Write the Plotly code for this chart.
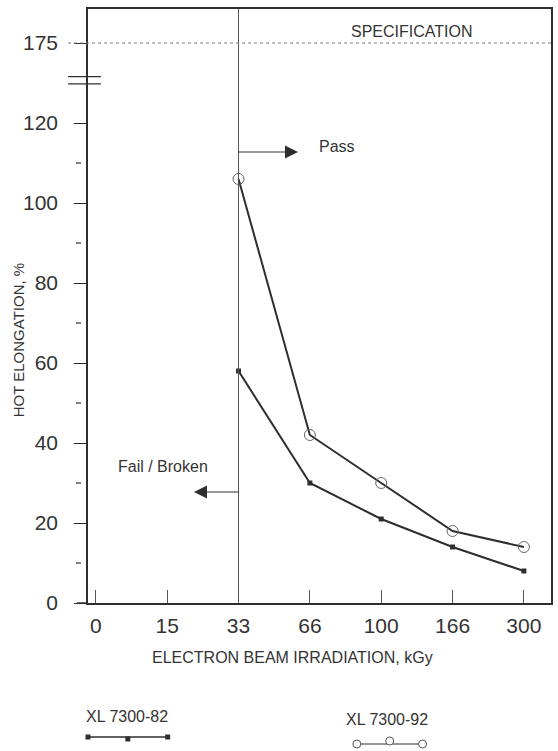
import plotly.graph_objects as go

# ---- data ----
dose_labels = ["0", "15", "33", "66", "100", "166", "300"]
dose_measured = ["33", "66", "100", "166", "300"]
xl_7300_82 = [58, 30, 21, 14, 8]
xl_7300_92 = [106, 42, 30, 18, 14]
ytick_vals = [0, 20, 40, 60, 80, 100, 120, 140]
ytick_text = ["0", "20", "40", "60", "80", "100", "120", "175"]
y_minor = [10, 30, 50, 70, 90, 110]
spec_pos = 140          # axis position where the broken axis shows 175
pass_level = 112.75
fail_level = 27.75

W, H = 558, 751
L, R, T, B = 88, 5, 9, 148
pw = W - L - R
ph = H - T - B

ink = "#2e2e2e"
grey = "#555555"
font = "Liberation Sans, Arial, sans-serif"

fig = go.Figure()
fig.add_trace(go.Scatter(
    x=dose_measured, y=xl_7300_82, mode="lines+markers",
    line=dict(color=ink, width=2),
    marker=dict(symbol="square", size=5, color=ink),
    showlegend=False))
fig.add_trace(go.Scatter(
    x=dose_measured, y=xl_7300_92, mode="lines+markers",
    line=dict(color=ink, width=2),
    marker=dict(symbol="circle-open", size=11, color="#666666", line=dict(width=1)),
    showlegend=False))

def px_x(p):
    return (p - L) / pw

def py(p):
    return 1 - (p - T) / ph

shapes = []
# threshold vertical line at 33 kGy
shapes.append(dict(type="line", xref="x", yref="paper", x0=2, x1=2, y0=0, y1=1,
                   line=dict(color=grey, width=1)))
# specification line
shapes.append(dict(type="line", xref="paper", yref="y", x0=px_x(68), x1=1,
                   y0=spec_pos, y1=spec_pos, line=dict(color="#777777", width=1, dash="dot")))
# axis break marks
for yb in [131.6, 129.8]:
    shapes.append(dict(type="line", xref="paper", yref="y", x0=px_x(68), x1=px_x(101),
                       y0=yb, y1=yb, line=dict(color=ink, width=1.2)))
# minor ticks (detached dashes)
for ym in y_minor:
    shapes.append(dict(type="line", xref="paper", yref="y", x0=px_x(76), x1=px_x(81),
                       y0=ym, y1=ym, line=dict(color=ink, width=1.2)))
# x axis extension to the left of the y axis
shapes.append(dict(type="line", xref="paper", yref="y", x0=px_x(77), x1=0,
                   y0=0, y1=0, line=dict(color=ink, width=1.5)))

# legend symbols (paper coords)
shapes.append(dict(type="line", xref="paper", yref="paper", x0=px_x(88), x1=px_x(168),
                   y0=py(737), y1=py(737), line=dict(color=ink, width=1.5)))
for xx, yy in [(88, 737), (128, 739), (168, 737)]:
    shapes.append(dict(type="rect", xref="paper", yref="paper",
                       x0=px_x(xx - 2.5), x1=px_x(xx + 2.5), y0=py(yy + 2.5), y1=py(yy - 2.5),
                       fillcolor=ink, line=dict(width=0)))
shapes.append(dict(type="line", xref="paper", yref="paper", x0=px_x(358), x1=px_x(424),
                   y0=py(744), y1=py(744), line=dict(color=ink, width=1.2)))
for xx, yy in [(358, 744), (391, 741), (424, 744)]:
    shapes.append(dict(type="circle", xref="paper", yref="paper",
                       x0=px_x(xx - 4), x1=px_x(xx + 4), y0=py(yy + 4), y1=py(yy - 4),
                       fillcolor="white", line=dict(color="#555555", width=1)))

tf = dict(family=font, size=16, color="#333333")

def label(text, x, y, **kw):
    d = dict(text=text, xref="paper", yref="paper", x=px_x(x), y=py(y),
             xanchor="center", yanchor="middle", showarrow=False, font=tf)
    d.update(kw)
    return d

arrow_style = dict(text="", showarrow=True, arrowside="start",
                   startarrowhead=2, startarrowsize=2.6, arrowwidth=1, arrowcolor=ink,
                   standoff=0, startstandoff=0)

annotations = [
    label("SPECIFICATION", 413, 32),
    label("Pass", 338, 146),
    label("Fail / Broken", 163, 466),
    # Pass arrow
    dict(x=2, y=pass_level, xref="x", yref="y", ax=61, ay=0, axref="pixel", ayref="pixel",
         **arrow_style),
    # Fail arrow
    dict(x=2, y=fail_level, xref="x", yref="y", ax=-46, ay=0, axref="pixel", ayref="pixel",
         **arrow_style),
    label("HOT ELONGATION, %", 18, 340, textangle=-90,
          font=dict(family=font, size=15, color="#333333")),
    label("ELECTRON BEAM IRRADIATION, kGy", 293, 657),
    label("XL 7300-82", 127, 716),
    label("XL 7300-92", 388, 719),
]

fig.update_layout(
    width=W, height=H,
    margin=dict(l=L, r=R, t=T, b=B),
    paper_bgcolor="white", plot_bgcolor="white",
    shapes=shapes, annotations=annotations,
    xaxis=dict(type="category", categoryorder="array", categoryarray=dose_labels,
               tickmode="array", tickvals=dose_labels, ticktext=dose_labels,
               range=[-0.11, 6.38], showgrid=False, zeroline=False,
               showline=True, linecolor=ink, linewidth=1.5, mirror=True,
               ticks="inside", ticklen=13, tickcolor=grey, tickwidth=1,
               ticklabelstandoff=3,
               tickfont=dict(family=font, size=21, color="#333333")),
    yaxis=dict(range=[0, 148.5], tickmode="array", tickvals=ytick_vals, ticktext=ytick_text,
               showgrid=False, zeroline=False,
               showline=True, linecolor=ink, linewidth=1.5, mirror=True,
               ticks="outside", ticklen=12, tickcolor=ink, tickwidth=1.2,
               ticklabelstandoff=12,
               tickfont=dict(family=font, size=21, color="#333333")),
)

fig.write_html("out.html", config={"displayModeBar": False},
               post_script="document.body.style.margin='0';document.body.style.overflow='hidden';")
